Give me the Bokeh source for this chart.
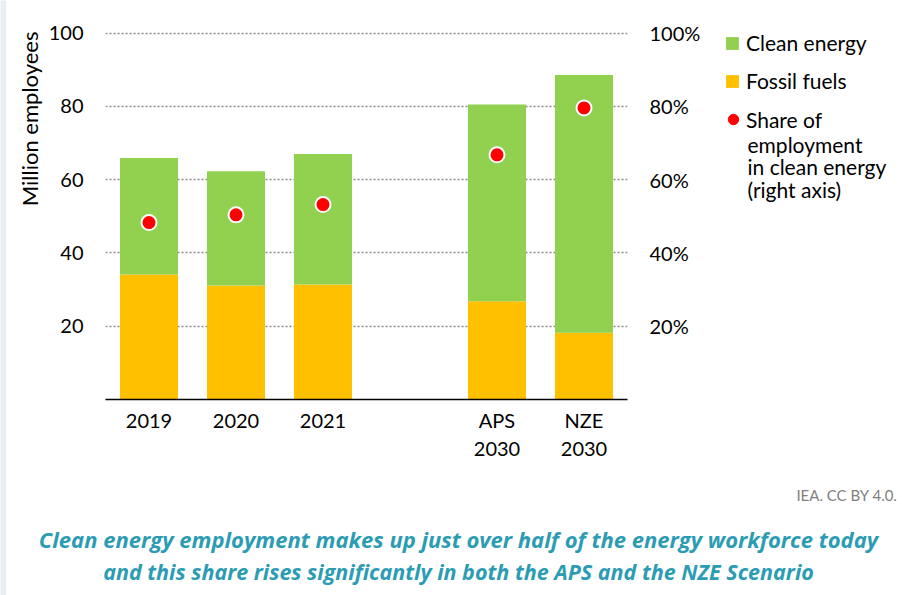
from bokeh.plotting import figure
from bokeh.layouts import row, column
from bokeh.models import (ColumnDataSource, Range1d, FactorRange, LinearAxis, FixedTicker,
                          PrintfTickFormatter, Legend, LegendItem, Label, Title)
from bokeh.embed import file_html
from bokeh.resources import INLINE

# ---- data ----
categories = ["2019", "2020", "2021", "APS\n2030", "NZE\n2030"]
axis_factors = ["2019", "2020", "2021", " ", "APS\n2030", "NZE\n2030"]
fossil_fuels = [34.1, 31.1, 31.4, 26.8, 18.2]
clean_energy = [31.8, 31.2, 35.6, 53.7, 70.4]
clean_share = [48.3, 50.4, 53.2, 66.8, 79.6]
left_ticks = [20, 40, 60, 80, 100]
right_ticks = [20, 40, 60, 80, 100]

GREEN = "#92d050"
YELLOW = "#ffc000"
RED = "#ff0000"
TEAL = "#2b9cb3"
PAGE = "#e9eef3"
FONT = "Lato"
NAN = float("nan")


def blank(w, h, color):
    f = figure(width=w, height=h, output_backend="svg", toolbar_location=None,
               x_axis_location=None, y_axis_location=None, min_border=0,
               x_range=Range1d(0, 1), y_range=Range1d(0, 1))
    f.grid.grid_line_color = None
    f.outline_line_color = None
    f.background_fill_color = color
    f.border_fill_color = color
    return f


def style_axis(ax, size, standoff):
    ax.axis_line_color = None
    ax.major_tick_line_color = None
    ax.minor_tick_line_color = None
    ax.major_tick_out = 0
    ax.major_tick_in = 0
    ax.minor_tick_out = 0
    ax.minor_tick_in = 0
    ax.major_label_text_font = FONT
    ax.major_label_text_font_size = size
    ax.major_label_text_color = "black"
    ax.major_label_standoff = standoff


src = ColumnDataSource(dict(cat=categories, fossil=fossil_fuels, clean=clean_energy,
                            share=clean_share))

# ---- main chart ----
p = figure(width=694, height=464, x_range=FactorRange(*axis_factors),
           y_range=Range1d(0, 101), output_backend="svg", toolbar_location=None,
           frame_width=522, frame_height=370,
           min_border_left=99, min_border_top=23, min_border_right=73, min_border_bottom=71)
p.extra_y_ranges = {"pct": Range1d(0, 101)}
p.x_range.range_padding = 0
p.outline_line_color = None

bars = p.vbar_stack(["fossil", "clean"], x="cat", width=0.667, color=[YELLOW, GREEN],
                    line_color=None, source=src)
dots = p.scatter(x="cat", y="share", size=15, fill_color=RED, line_color="white",
                 line_width=2, y_range_name="pct", source=src)

style_axis(p.xaxis[0], "20px", 8)
p.xaxis.axis_line_color = "black"
p.xaxis.axis_line_width = 1.5
p.xaxis.major_label_text_line_height = 1.2

style_axis(p.yaxis[0], "20px", 22)
p.yaxis.ticker = FixedTicker(ticks=left_ticks)

raxis = LinearAxis(y_range_name="pct", ticker=FixedTicker(ticks=right_ticks),
                   formatter=PrintfTickFormatter(format="%d%%"))
style_axis(raxis, "20px", 22)
p.add_layout(raxis, "right")

p.xgrid.grid_line_color = None
p.ygrid.grid_line_color = "#8a8a8a"
p.ygrid.grid_line_dash = "2 2"
p.ygrid.grid_line_width = 1.3

p.add_layout(Title(text="Million employees", align="right", offset=2,
                   text_font=FONT, text_font_size="22px", text_font_style="normal",
                   text_color="black", standoff=6), "left")

# ---- legend panel ----
lg = figure(width=209, height=464, output_backend="svg", toolbar_location=None,
            x_axis_location=None, y_axis_location=None, min_border=0,
            x_range=Range1d(700, 909), y_range=Range1d(470, 6))
lg.grid.grid_line_color = None
lg.outline_line_color = None
sw_clean = lg.vbar(x=[NAN], top=[NAN], width=1, color=GREEN, line_color=None)
sw_fossil = lg.vbar(x=[NAN], top=[NAN], width=1, color=YELLOW, line_color=None)
sw_share = lg.scatter(x=[NAN], y=[NAN], fill_color=RED, line_color=RED)

common = dict(padding=0, margin=0, border_line_color=None, background_fill_alpha=0,
              label_text_font=FONT, label_text_font_size="21px", label_text_color="black")
leg_a = Legend(items=[LegendItem(label="Clean energy", renderers=[sw_clean]),
                      LegendItem(label="Fossil fuels", renderers=[sw_fossil])],
               location=(21, 306), spacing=13, glyph_width=16, glyph_height=16,
               label_standoff=6, label_height=24, **common)
leg_b = Legend(items=[LegendItem(label="Share of", renderers=[sw_share])],
               location=(17, 267), spacing=0, glyph_width=26, glyph_height=26,
               label_standoff=0, label_height=26, **common)
lg.add_layout(leg_a)
lg.add_layout(leg_b)
for txt, yy in [("employment", 150), ("in clean energy", 178), ("(right axis)", 207)]:
    lg.add_layout(Label(x=744, y=yy, text=txt, text_align="left", text_baseline="middle",
                        text_font=FONT, text_font_size="21px", text_color="black"))

# ---- caption panel ----
cap = figure(width=903, height=125, output_backend="svg", toolbar_location=None,
             x_axis_location=None, y_axis_location=None, min_border=0,
             x_range=Range1d(6, 909), y_range=Range1d(595, 470))
cap.grid.grid_line_color = None
cap.outline_line_color = None
cap.add_layout(Label(x=897, y=494, text="IEA. CC BY 4.0.", text_align="right",
                     text_baseline="middle", text_font=FONT, text_font_size="15px",
                     text_color="#7f7f7f"))
cap.add_layout(Label(x=458, y=538,
                     text="Clean energy employment makes up just over half of the energy workforce today",
                     text_align="center", text_baseline="middle", text_font="Open Sans",
                     text_font_style="bold italic", text_font_size="22px", text_color=TEAL))
cap.add_layout(Label(x=458, y=571,
                     text="and this share rises significantly in both the APS and the NZE Scenario",
                     text_align="center", text_baseline="middle", text_font="Open Sans",
                     text_font_style="bold italic", text_font_size="21.5px", text_color=TEAL))

layout = row(
    blank(6, 595, PAGE),
    column(blank(903, 4, PAGE), blank(903, 2, "#7f8387"),
           row(p, lg), cap, spacing=0),
    spacing=0)

open("out.html", "w").write(file_html(layout, INLINE))
